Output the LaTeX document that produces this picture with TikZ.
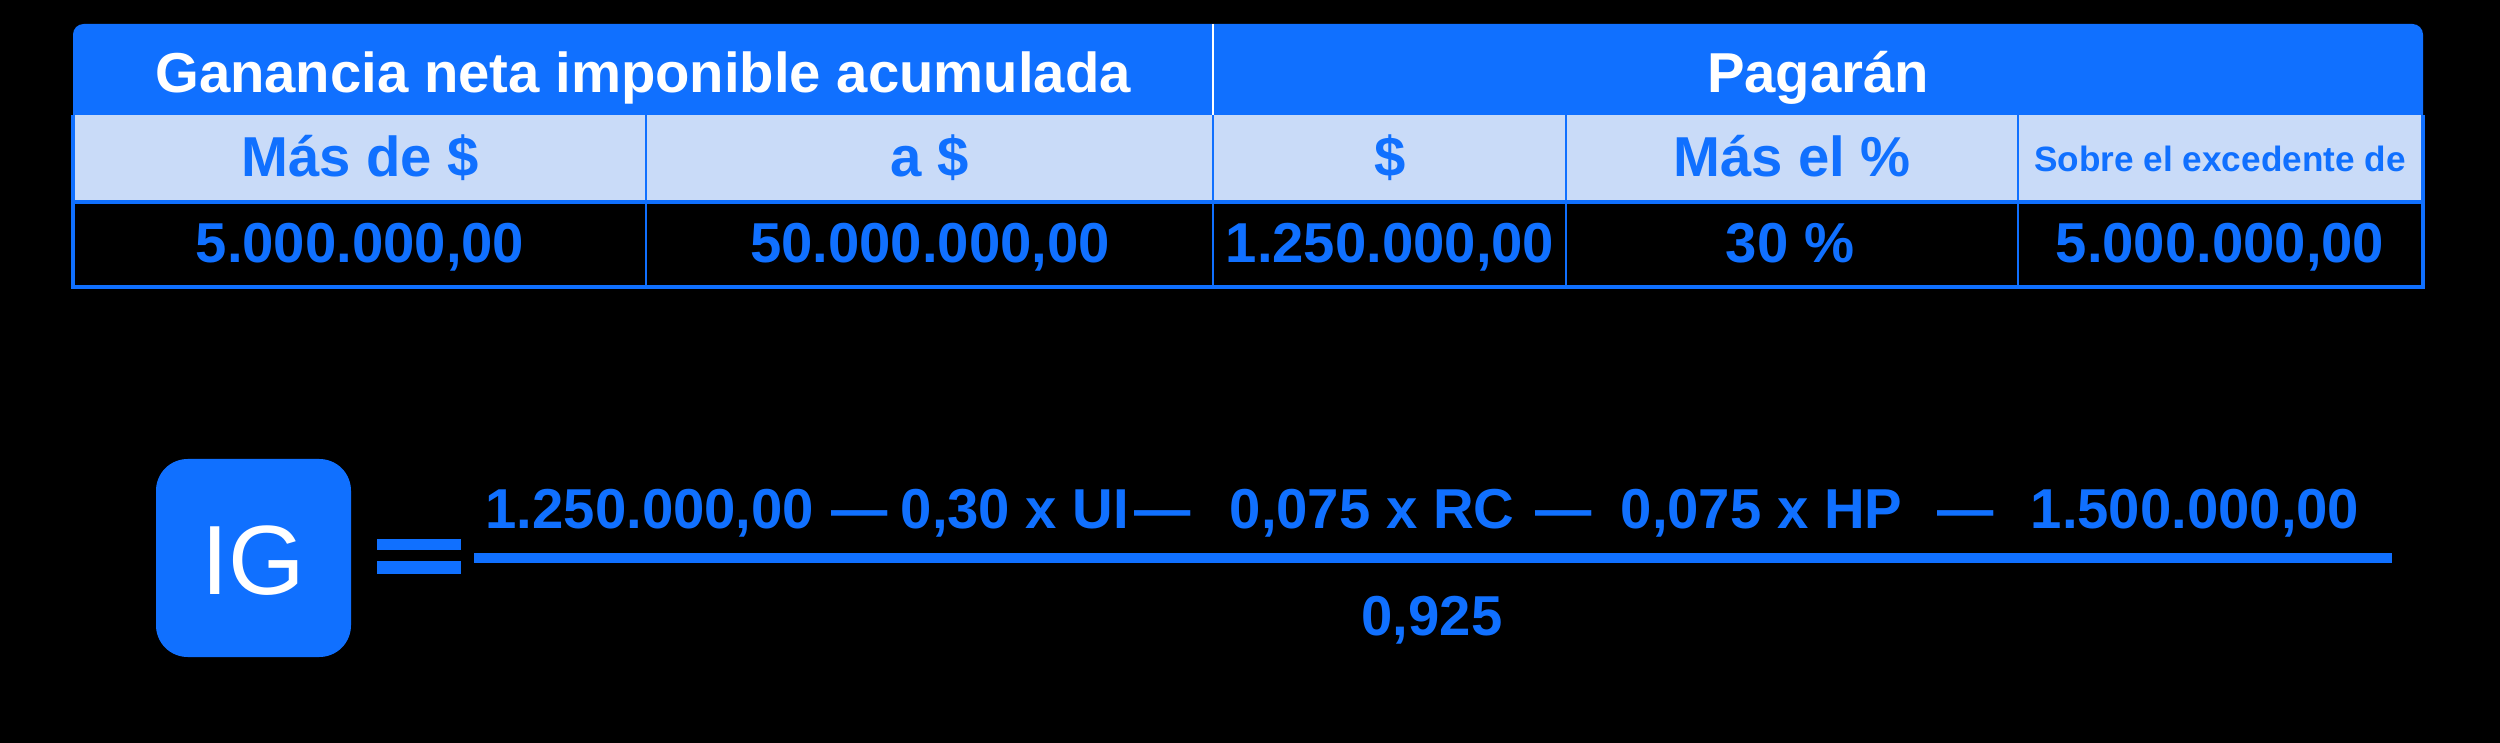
\documentclass[tikz,border=0pt]{standalone}
\usepackage{fontspec}
\setmainfont{Liberation Sans}
\definecolor{igblue}{RGB}{16,112,255}
\definecolor{rowblue}{RGB}{201,219,248}

\begin{document}
\begin{tikzpicture}[x=0.01cm,y=-0.01cm]
	\tikzstyle{every node}=[inner sep=0pt,anchor=base,text=igblue,font=\bfseries\fontsize{16}{19}\selectfont]
	\tikzstyle{head}=[text=white]
	\tikzstyle{small}=[font=\bfseries\fontsize{10}{12}\selectfont]
	\tikzstyle{term}=[anchor=base west]
	\tikzstyle{rule}=[igblue,line width=0.6pt]

	\fill[black] (0,0) rectangle (2500,743);

	% table
	\fill[igblue,rounded corners=3pt] (73,24) rectangle (2423,140);
	\fill[rowblue] (73,115) rectangle (2423,202);
	\fill[black] (73,202) rectangle (2423,287);
	\draw[white,line width=0.6pt] (1213,24) -- (1213,115);
	\foreach \x in {646,1213,1566,2018}
		\draw[rule] (\x,115) -- (\x,287);
	\draw[igblue,line width=1.4pt] (73,202) -- (2423,202);
	\draw[igblue,line width=1.1pt] (73,115) -- (73,287) -- (2423,287) -- (2423,115);

	\node[head] (gan) at (643,93) {Ganancia neta imponible acumulada};
	\node[head] (pag) at (1818,93) {Pagarán};

	\node (mas) at (360,177) {Más de \$};
	\node (hasta) at (930,177) {a \$};
	\node (pesos) at (1390,177) {\$};
	\node (porc) at (1792,177) {Más el \%};
	\node[small] (sobre) at (2220,172) {Sobre el excedente de};

	\node (v1) at (360,263) {5.000.000,00};
	\node (v2) at (930,263) {50.000.000,00};
	\node (v3) at (1390,263) {1.250.000,00};
	\node (v4) at (1790,263) {30 \%};
	\node (v5) at (2220,263) {5.000.000,00};

	% formula
	\fill[igblue,rounded corners=9pt] (156,459) rectangle (351,657);
	\node[text=white,font=\fontsize{28}{32}\selectfont] (ig) at (253,594) {IG};
	\fill[igblue] (377,539) rectangle (461,550);
	\fill[igblue] (377,561) rectangle (461,574);
	\coordinate (barl) at (474,558);
	\coordinate (barr) at (2392,558);
	\draw[igblue,line width=2.6pt] (barl) -- (barr);

	\node[term] (n1) at (485,528) {1.250.000,00};
	\node[term] (d1) at (831,528) {—};
	\node[term] (n2) at (900,528) {0,30 x UI};
	\node[term] (d2) at (1134,528) {—};
	\node[term] (n3) at (1229,528) {0,075 x RC};
	\node[term] (d3) at (1535,528) {—};
	\node[term] (n4) at (1620,528) {0,075 x HP};
	\node[term] (d4) at (1937,528) {—};
	\node[term] (n5) at (2030,528) {1.500.000,00};
	\node (den) at (1432,635) {0,925};
\end{tikzpicture}
\end{document}
